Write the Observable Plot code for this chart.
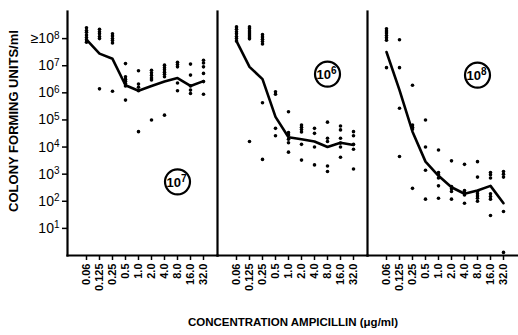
<!DOCTYPE html>
<html><head><meta charset="utf-8">
<script src="https://cdn.jsdelivr.net/npm/d3@7"></script>
<script src="https://cdn.jsdelivr.net/npm/@observablehq/plot@0.6"></script>
<style>
body{margin:0;background:#fff}
svg{font-family:"Liberation Sans",Arial,sans-serif}
</style>
</head><body><div id="chart"></div>
<script>
// Ampicillin concentrations (µg/ml) — x categories
const concentrations = ["0.06","0.125","0.25","0.5","1.0","2.0","4.0","8.0","16.0","32.0"];
// Panels, named by inoculum
const panels = ["10^7","10^6","10^8"];
// y ticks (CFU/ml)
const yTicks = [1e1,1e2,1e3,1e4,1e5,1e6,1e7,1e8];
const yTickLabels = ["10|1","10|2","10|3","10|4","10|5","10|6","10|7","≥10|8"];

// Median curves
const lineA = [9.1e7, 2.8e7, 1.8e7, 1.9e6, 1.2e6, 1.8e6, 2.6e6, 3.5e6, 1.8e6, 2.7e6];
const lineB = [8.1e7, 9.1e6, 3.2e6, 1.3e5, 2.3e4, 1.95e4, 1.6e4, 1.0e4, 1.45e4, 1.2e4];
const lineC = [3.2e7, 1.26e6, 3.7e4, 2.9e3, 8.7e2, 3.3e2, 1.9e2, 2.5e2, 3.7e2, 85];

// Individual isolates, one list per concentration
const dotsA = [
  [2.5e8,2.0e8,1.7e8,1.35e8,1.1e8,9.1e7,7.4e7],
  [2.2e8,1.8e8,1.5e8,1.2e8,1.0e8,1.4e6],
  [1.5e8,1.26e8,1.0e8,8.5e7,6.9e7,1.15e6],
  [1.2e7,3.9e6,3.2e6,2.7e6,2.2e6,1.8e6,5.4e5],
  [6.5e6,2.1e6,1.6e6,1.2e6,3.7e4],
  [6.8e6,5.5e6,4.4e6,3.5e6,3.0e6,1.0e5],
  [1.05e7,8.5e6,7.1e6,5.8e6,4.8e6,3.9e6,1.5e5],
  [1.35e7,1.1e7,9.1e6,2.3e6,1.2e6],
  [1.15e7,4.5e6,1.8e6,1.26e6,9.5e5],
  [1.6e7,1.26e7,9.1e6,5.2e6,2.6e6,8.9e5]
];
const dotsB = [
  [2.7e8,2.2e8,1.8e8,1.5e8,1.2e8,1.0e8,8.1e7],
  [2.7e8,2.3e8,1.9e8,1.6e8,1.35e8,1.15e8,9.8e7,1.6e4],
  [1.4e8,1.15e8,9.5e7,7.8e7,6.3e7,4.3e5,3.5e3],
  [1.1e6,8.9e5,4.9e4,2.6e4],
  [2.0e5,3.4e4,2.8e4,1.95e4,1.45e4,6.5e3],
  [6.5e4,5.4e4,4.4e4,3.6e4,1.26e4,3.3e3],
  [4.9e4,3.2e4,1.0e4,2.2e3],
  [8.3e4,2.1e4,1.6e4,2.0e3,1.26e3],
  [6.0e4,4.3e4,2.1e4,1.4e4,1.0e4,4.2e3],
  [3.7e4,2.6e4,1.26e4,8.3e3,1.55e3]
];
const dotsC = [
  [2.3e8,1.9e8,1.6e8,1.3e8,1.07e8,8.7e7,8.5e6],
  [9.1e7,8.5e6,2.7e5,4.5e3],
  [1.9e6,6.5e4,5.4e4,4.6e4,3.0e2],
  [1.0e5,1.0e4,1.4e3,1.2e2],
  [7.8e3,1.15e3,9.5e2,7.2e2,3.7e2,1.3e2],
  [3.1e3,3.5e2,2.9e2,2.3e2,1.2e2],
  [2.3e3,2.5e2,2.1e2,1.7e2,85],
  [2.9e3,7.8e2,2.3e2,1.9e2,1.55e2,1.3e2,1.0e2],
  [1.15e3,9.5e2,7.2e2,1.9e2,1.5e2,1.2e2,30],
  [1.26e3,1.0e3,7.8e2,42,1.3]
];
// circled inoculum labels: concentration column and height
const labelConc = ["8.0","8.0","8.0"];
const labelCfu = [5.2e2, 4.9e6, 4.5e6];

// build tables
const lines = [lineA, lineB, lineC];
const dots = [dotsA, dotsB, dotsC];
const lineData = [], dotData = [], labelData = [];
panels.forEach((p, i) => {
  concentrations.forEach((c, j) => {
    lineData.push({panel: p, conc: c, cfu: lines[i][j]});
    dots[i][j].forEach(v => dotData.push({panel: p, conc: c, cfu: v}));
  });
  labelData.push({panel: p, conc: labelConc[i], cfu: labelCfu[i]});
});

const chart = Plot.plot({
  width: 518, height: 335,
  marginLeft: 67, marginRight: 1, marginTop: 11, marginBottom: 80,
  style: {fontFamily: "'Liberation Sans', Arial, sans-serif", background: "white", color: "black"},
  fx: {domain: panels, padding: 0, axis: null, label: null},
  x: {domain: concentrations, type: "point", padding: 0, insetLeft: 16, insetRight: 11, axis: null},
  y: {type: "log", domain: [1, 1e9], axis: null},
  marks: [
    Plot.frame({anchor: "left", strokeWidth: 2.2}),
    Plot.frame({anchor: "bottom", strokeWidth: 2.2}),
    Plot.axisX({tickSize: 5, tickPadding: 3, tickRotate: -90, fontSize: 11, fontWeight: "bold", strokeWidth: 1.5, label: null}),
    Plot.axisY({ticks: yTicks, tickSize: 5, tickPadding: 3, strokeWidth: 1.5, fontSize: 14, label: null,
      tickFormat: d => yTickLabels[yTicks.indexOf(d)]}),
    Plot.line(lineData, {x: "conc", y: "cfu", fx: "panel", stroke: "black", strokeWidth: 2.6, strokeLinejoin: "round"}),
    Plot.dot(dotData, {x: "conc", y: "cfu", fx: "panel", r: 1.8, fill: "black"}),
    Plot.dot(labelData, {x: "conc", y: "cfu", fx: "panel", r: 12.5, stroke: "black", strokeWidth: 2.2, fill: "white"}),
    Plot.text(labelData, {x: "conc", y: "cfu", fx: "panel", text: "panel", fontSize: 13, fontWeight: "bold", dx: -1, dy: 1})
  ]
});
document.getElementById("chart").appendChild(chart);

const svg = d3.select(chart);
// superscripts for y tick labels
svg.selectAll('g[aria-label="y-axis tick label"] text').each(function() {
  const t = d3.select(this);
  const [base, sup] = t.text().split("|");
  t.text(base);
  t.append("tspan").attr("dy", "-0.45em").attr("font-size", 10).text(sup);
});
// circled labels with superscript
svg.selectAll('g[aria-label="text"] text').each(function() {
  const t = d3.select(this);
  const s = t.text();
  if (!s.includes("^")) return;
  const [base, sup] = s.split("^");
  t.text(base);
  t.append("tspan").attr("dy", "-0.5em").attr("font-size", 10).text(sup);
});
// axis titles
svg.append("text")
  .attr("transform", "translate(15,121) rotate(-90)")
  .attr("text-anchor", "middle").attr("dominant-baseline", "middle")
  .attr("font-size", 13).attr("font-weight", "bold")
  .text("COLONY FORMING UNITS/ml");
svg.append("text")
  .attr("x", 293).attr("y", 326)
  .attr("text-anchor", "middle")
  .attr("font-size", 11.5).attr("font-weight", "bold")
  .text("CONCENTRATION AMPICILLIN (μg/ml)");
</script>
</body></html>
